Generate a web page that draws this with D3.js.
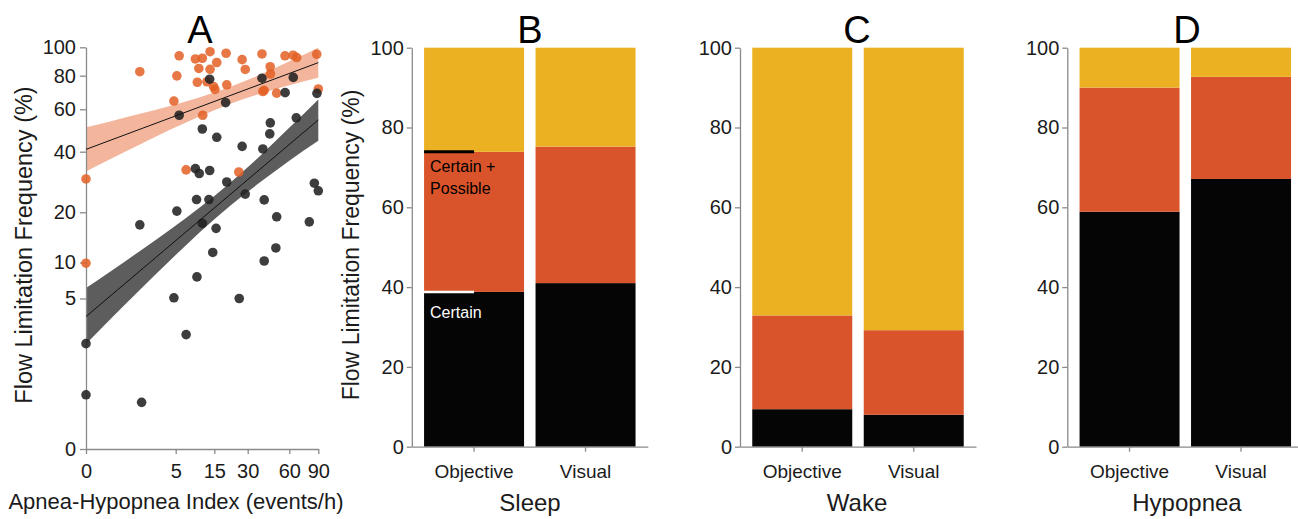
<!DOCTYPE html>
<html>
<head>
<meta charset="utf-8">
<script src="https://cdn.jsdelivr.net/npm/d3@7"></script>
<style>
  html, body { margin: 0; padding: 0; background: #fff; }
  svg { display: block; font-family: "Liberation Sans", Arial, Helvetica, sans-serif; }
</style>
</head>
<body>
<svg id="fig" width="1298" height="519"></svg>
<script>
// ---------- Panel A: AHI vs. flow limitation frequency ----------
const ahiTicks = [0, 5, 15, 30, 60, 90];
const flTicks = [0, 5, 10, 20, 40, 60, 80, 100];

// "Certain" flow limitation (dark points)
const certainAHI = [0, 0, 3.0, 3.1, 4.9, 5.3, 5.9, 7.7, 10.1, 10.4, 10.5, 11.1, 11.9, 11.9,
  13.8, 13.8, 13.6, 14.6, 15.8, 16.1, 20.1, 20.6, 26.2, 27.5, 28.9, 40.3, 40.9, 41.9, 41.9,
  46.3, 45.9, 50.9, 50.3, 57.0, 64.1, 67.2, 80.7, 85.9, 88.6, 90];
const certainFL = [3.5, 1.8, 17.5, 1.55, 5.1, 20.4, 57.2, 3.8, 34.4, 24.2, 8.0, 32.8, 50.7, 17.8,
  77.9, 33.8, 24.2, 12.0, 16.8, 46.8, 64.0, 30.0, 5.0, 42.5, 26.0, 78.5, 41.3, 24.1, 10.3,
  53.6, 48.4, 19.1, 12.9, 69.9, 79.0, 56.0, 18.1, 29.6, 69.5, 27.1];

// "Certain + Possible" flow limitation (orange points)
const possibleAHI = [0, 0, 3.0, 4.9, 5.3, 5.9, 7.7, 10.1, 11.9, 11.0, 10.6, 12.0, 13.9, 13.9,
  13.1, 14.8, 15.3, 16.1, 20.3, 20.6, 26.0, 27.5, 28.9, 40.3, 46.2, 46.4, 40.9, 41.9, 50.9,
  56.9, 64.0, 67.7, 88.4, 90];
const possibleFL = [31.0, 9.9, 82.8, 64.9, 79.9, 94.0, 34.0, 91.8, 92.3, 85.1, 76.1, 57.2, 96.9, 84.5,
  76.4, 73.6, 71.8, 89.3, 95.8, 74.6, 33.3, 91.3, 84.4, 95.3, 86.3, 81.2, 70.6, 71.3, 69.6,
  94.0, 94.4, 92.8, 95.1, 72.1];

// Regression fits and 95% confidence bands
const fitAHI = [0, 90];
const certainFit = [4.4, 55.0];
const possibleFit = [41.1, 89.2];
const bandAHI = [0, 1.34, 3.01, 4.68, 11.3, 22.0, 38.9, 60.7, 90];
const certainBandLo = [3.49, 4.30, 6.21, 10.4, 16.1, 22.1, 29.9, 37.2, 45.2];
const certainBandHi = [6.46, 8.72, 12.3, 16.5, 21.7, 29.7, 38.6, 51.6, 65.9];
const possibleBandLo = [33.5, 37.5, 43.4, 50.3, 56.7, 63.2, 69.2, 74.4, 78.8];
const possibleBandHi = [51.5, 54.3, 57.9, 62.0, 67.2, 73.3, 80.6, 90.3, 99.7];

// ---------- Panels B-D: stacked bars ----------
const barCategories = ["Objective", "Visual"];
const sleepCertain = [38.8, 41.0];
const sleepPossible = [35.1, 34.2];
const sleepNone = [26.1, 24.8];
const wakeCertain = [9.4, 8.0];
const wakePossible = [23.5, 21.2];
const wakeNone = [67.1, 70.8];
const hypopneaCertain = [58.9, 67.1];
const hypopneaPossible = [31.1, 25.6];
const hypopneaNone = [10.0, 7.3];
const barTicks = [0, 20, 40, 60, 80, 100];

// ---------- drawing ----------
const svg = d3.select("#fig");
const ink = "#1b1b1b";
const axisGrey = "#8a8a8a";
const segColors = { certain: "#050505", possible: "#d9542a", none: "#ebb123" };

function styleAxis(g, fontSize) {
  g.select(".domain").attr("stroke", axisGrey).attr("stroke-width", 1.3);
  g.selectAll(".tick line").attr("stroke", axisGrey).attr("stroke-width", 1.3);
  g.selectAll(".tick text").attr("fill", ink).attr("font-size", fontSize)
    .attr("font-family", "'Liberation Sans', Arial, sans-serif");
}

// Panel A
(function () {
  const x = d3.scaleLinear().domain(ahiTicks).range([86, 175.7, 214.3, 247.7, 289.3, 318.3]);
  const y = d3.scaleLinear().domain(flTicks).range([449, 298.5, 262.5, 212.3, 151.7, 109.3, 75.7, 47.3]);
  const g = svg.append("g");

  const band = (lo, hi) => d3.area()
    .x((d, i) => x(bandAHI[i]))
    .y0((d, i) => y(lo[i]))
    .y1((d, i) => y(hi[i]))
    .curve(d3.curveMonotoneX)(bandAHI);

  g.append("path").attr("d", band(possibleBandLo, possibleBandHi)).attr("fill", "#f3b69d");
  g.append("path").attr("d", band(certainBandLo, certainBandHi)).attr("fill", "#5d5d5d");

  const ax = g.append("g").attr("transform", "translate(0,449)")
    .call(d3.axisBottom(x).tickValues(ahiTicks).tickFormat(d3.format("d"))
      .tickSize(5).tickSizeOuter(0).tickPadding(10));
  styleAxis(ax, 20);
  const ay = g.append("g").attr("transform", "translate(86,0)")
    .call(d3.axisLeft(y).tickValues(flTicks).tickFormat(d3.format("d"))
      .tickSize(6).tickSizeOuter(0).tickPadding(4));
  styleAxis(ay, 20);

  g.append("g").selectAll("circle").data(d3.range(possibleAHI.length)).join("circle")
    .attr("cx", i => x(possibleAHI[i])).attr("cy", i => y(possibleFL[i])).attr("r", 4.8)
    .attr("fill", "#e35f25").attr("fill-opacity", 0.85);
  g.append("g").selectAll("circle").data(d3.range(certainAHI.length)).join("circle")
    .attr("cx", i => x(certainAHI[i])).attr("cy", i => y(certainFL[i])).attr("r", 4.8)
    .attr("fill", "#222").attr("fill-opacity", 0.88);

  const line = vals => d3.line().x((d, i) => x(fitAHI[i])).y((d, i) => y(vals[i]))(fitAHI);
  g.append("path").attr("d", line(possibleFit)).attr("stroke", "#111").attr("stroke-width", 1).attr("fill", "none");
  g.append("path").attr("d", line(certainFit)).attr("stroke", "#111").attr("stroke-width", 1).attr("fill", "none");

  g.append("text").attr("transform", "translate(24,245) rotate(-90)")
    .attr("text-anchor", "middle").attr("dy", "0.35em").attr("font-size", 23.5).attr("fill", ink)
    .text("Flow Limitation Frequency (%)");
  g.append("text").attr("x", 176).attr("y", 509).attr("text-anchor", "middle")
    .attr("font-size", 22).attr("fill", ink).text("Apnea-Hypopnea Index (events/h)");
  g.append("text").attr("x", 200).attr("y", 43).attr("text-anchor", "middle")
    .attr("font-size", 38).attr("fill", "#000").text("A");
})();

// Panels B-D
function barPanel(x0, certain, possible, none, title, letter, letterX, withYTitle, withKey) {
  const rows = barCategories.map((c, i) => ({ cat: c, certain: certain[i], possible: possible[i], none: none[i] }));
  const series = d3.stack().keys(["certain", "possible", "none"])(rows);
  const x = d3.scaleBand().domain(barCategories).range([x0, x0 + 236]).paddingInner(0.103).paddingOuter(0.11);
  const y = d3.scaleLinear().domain([0, 100]).range([446.7, 47.7]);
  const g = svg.append("g");

  g.selectAll("g.seg").data(series).join("g").attr("class", "seg")
    .attr("fill", s => segColors[s.key])
    .selectAll("rect").data(s => s).join("rect")
    .attr("x", d => x(d.data.cat)).attr("width", x.bandwidth())
    .attr("y", d => y(d[1])).attr("height", d => y(d[0]) - y(d[1]));

  const ax = g.append("g").attr("transform", "translate(0,446.7)")
    .call(d3.axisBottom(x).tickSize(5).tickSizeOuter(0).tickPadding(13));
  styleAxis(ax, 19);
  const ay = g.append("g").attr("transform", `translate(${x0},0)`)
    .call(d3.axisLeft(y).tickValues(barTicks).tickSize(5).tickSizeOuter(0).tickPadding(3));
  styleAxis(ay, 20);

  g.append("text").attr("x", letterX).attr("y", 511).attr("text-anchor", "middle")
    .attr("font-size", 24).attr("fill", ink).text(title);
  g.append("text").attr("x", letterX).attr("y", 43).attr("text-anchor", "middle")
    .attr("font-size", 38).attr("fill", "#000").text(letter);

  if (withYTitle) {
    g.append("text").attr("transform", `translate(${x0 - 61},245) rotate(-90)`)
      .attr("text-anchor", "middle").attr("dy", "0.35em").attr("font-size", 23).attr("fill", ink)
      .text("Flow Limitation Frequency (%)");
  }

  if (withKey) {
    const bx = x(barCategories[0]);
    const topCertain = y(certain[0]);
    const topPossible = y(certain[0] + possible[0]);
    g.append("line").attr("x1", bx).attr("x2", bx + 50).attr("y1", topPossible).attr("y2", topPossible)
      .attr("stroke", "#000").attr("stroke-width", 3);
    g.append("line").attr("x1", bx).attr("x2", bx + 50).attr("y1", topCertain).attr("y2", topCertain)
      .attr("stroke", "#fff").attr("stroke-width", 2.5);
    const k = g.append("text").attr("x", bx + 6).attr("y", topPossible + 20.5)
      .attr("font-size", 16).attr("fill", "#000");
    k.append("tspan").attr("x", bx + 6).text("Certain +");
    k.append("tspan").attr("x", bx + 6).attr("dy", 21.6).text("Possible");
    g.append("text").attr("x", bx + 6).attr("y", topCertain + 26.5)
      .attr("font-size", 16).attr("fill", "#fff").text("Certain");
  }
}

barPanel(411.8, sleepCertain, sleepPossible, sleepNone, "Sleep", "B", 530, true, true);
barPanel(740, wakeCertain, wakePossible, wakeNone, "Wake", "C", 857, false, false);
barPanel(1067.3, hypopneaCertain, hypopneaPossible, hypopneaNone, "Hypopnea", "D", 1187, false, false);
</script>
</body>
</html>
